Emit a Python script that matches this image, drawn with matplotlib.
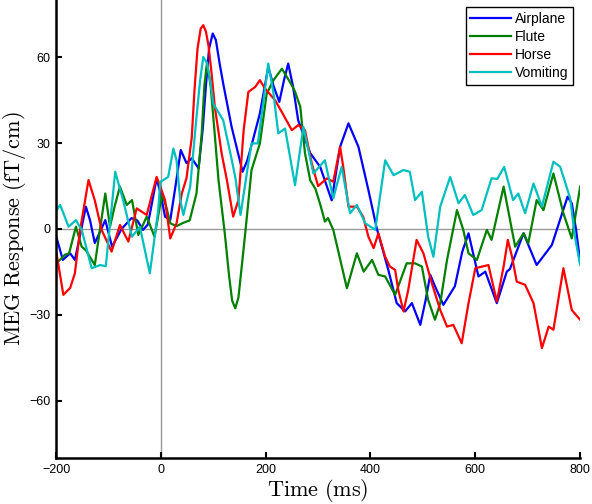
import matplotlib
matplotlib.use("Agg")
from matplotlib import pyplot as plt

# values (time in ms, response in fT/cm)
airplane_t = [-199, -187, -173, -164, -155, -143, -135, -126, -116, -106, -93, -75, -56, -45, -34, -25,
              -18, -8, 0, 8, 18, 28, 38, 49, 59, 72, 80, 86, 92, 99, 105, 112, 119, 135, 156, 165, 174, 189,
              205, 215, 226, 235, 243, 252, 262, 285, 304, 326, 342, 358, 377, 396, 412, 434, 450, 466, 479,
              495, 505, 514, 523, 539, 561, 575, 587, 606, 619, 641, 660, 666, 692, 717, 746, 776, 784, 792, 800]
airplane_v = [-3, -10.8, -8.5, -10.8, -3, 7.8, 3, -4.9, -1, 3.1, -6.2, 0, 3.8, 3, -0.3, 1.5,
              8, 17.7, 12, 4.3, 3.1, 15, 27.6, 23, 24.7, 21.2, 35, 50, 63, 68.3, 66, 58, 50.8, 35.7, 20, 24, 29.9, 40.4,
              56.6, 50, 44.4, 52, 57.8, 50, 38, 26.5, 21.7, 10, 28.7, 36.9, 28.7, 13.6, 0.2, -14.3, -25.9, -28.8, -25.9,
              -33.5, -25, -16, -20, -26.5, -20, -8, -1.5, -16.6, -14.9, -25.9, -14.9, -14, -1.5, -12.6, -5.6, 11.3, 9, 0, -11.4]

flute_t = [-199, -183, -175, -162, -151, -143, -126, -116, -106, -97, -88, -78, -65, -55, -43, -27,
           -12, 2, 10, 18, 30, 42, 55, 68, 78, 83, 88, 95, 102, 110, 122, 130, 136, 142, 148, 155, 161, 173,
           189, 202, 215, 231, 250, 256, 266, 275, 285, 295, 305, 313, 319, 329, 355, 374, 387, 403, 415, 428,
           447, 469, 485, 498, 510, 523, 533, 546, 565, 577, 587, 603, 622, 631, 654, 676, 692, 701, 717, 730,
           749, 768, 784, 800]
flute_v = [-12, -9, -8.5, 0.8, -6.2, -7.4, -12.6, 0, 12.4, 0.8, 8, 14.8, 8.4, 10.1, -2.1, 4.3,
           -2.7, 12, 8, 2, 1, 2.1, 3, 12.4, 33.4, 50, 58, 50, 35, 17.1, -1.5, -16, -25, -27.7, -24, -12, -1.5, 20.6,
           29.9, 47.3, 52, 56, 50.2, 48, 42.7, 26.5, 17, 14, 8, 2.6, 3.8, -0.3, -20.7, -8.5, -14.9, -10.8, -16, -16.6,
           -23, -12, -12, -13.1, -24.8, -31.7, -26, -10.8, 6.6, -0.3, -8.5, -10.8, -0.3, -3.8, 14.8, -6.2, -1.5, -5, 10.1, 6.6,
           19.4, 5.5, -3.3, 14.8]

horse_t = [-199, -186, -173, -164, -154, -138, -126, -113, -94, -78, -70, -62, -46, -27, -8, -1, 8,
           18, 30, 40, 49, 59, 64, 70, 76, 81, 86, 91, 97, 103, 116, 126, 138, 148, 158, 167, 180, 189, 199,
           218, 234, 250, 262, 275, 288, 300, 317, 329, 342, 348, 358, 374, 386, 396, 406, 415, 428, 437, 447,
           453, 463, 472, 488, 501, 517, 533, 546, 558, 574, 587, 600, 625, 641, 654, 662, 670, 679, 695, 711,
           727, 740, 749, 768, 784, 800]
horse_v = [-8.5, -23, -20.6, -15.5, -0.3, 17.1, 10, -0.3, -7.9, 1.4, -1.5, -4.4, 7.2, 4.9, 18.2, 14.8, 10.1,
           -3.3, 2, 12.4, 17.8, 32, 48, 63, 70, 71.2, 69, 64, 54, 42.7, 26.4, 17.1, 4.3, 10.1, 34.5, 47.9, 49.6, 52, 49,
           45, 39.8, 34.5, 36.3, 34.5, 22.9, 15, 17.7, 16.5, 28.7, 21.7, 7.8, 7.8, 4.3, -2.7, -6.7, -1.5, -9.7, -13.1, -14.3,
           -21.3, -28.8, -21.3, -3.8, -8.5, -18.9, -28.3, -34.1, -33.5, -39.9, -25.9, -13.7, -12.6, -25.3, -13.1, -3.8, -9.7, -18.4, -19.5, -25.9,
           -41.6, -34.1, -35.2, -13.7, -28.3, -31.7]

vomiting_t = [-199, -192, -176, -162, -151, -132, -116, -105, -87, -72, -55, -40, -21, -5, -1, 5, 14,
              24, 30, 37, 43, 56, 68, 75, 81, 88, 94, 100, 119, 132, 142, 152, 164, 173, 185, 196, 205, 215, 224,
              237, 256, 272, 291, 313, 329, 345, 361, 374, 390, 409, 428, 444, 463, 475, 485, 498, 510, 520,
              533, 552, 568, 580, 596, 612, 631, 642, 655, 672, 682, 695, 711, 727, 749, 762, 781, 790, 800]
vomiting_v = [6.6, 8.4, 0.8, 3.1, -0.3, -13.7, -12.6, -13, 20, 10.1, -2.7, 0.8, -15.5, 6.6, 16.5, 17.1, 18.2,
              28.1, 24, 10.1, 4.9, 14.8, 39.2, 52, 60.1, 58, 52, 43.8, 38, 27, 18.2, 4.9, 19.4, 29.9, 29.9, 45, 57.8, 47.3, 33.4,
              35.1, 15.3, 35.7, 19.4, 24, 10.7, 21.7, 5.5, 8.4, 2, -0.3, 24, 18.8, 20.6, 20, 10.1, 13, -2.7, -9.7,
              7.8, 18.2, 9, 11.9, 4.9, 6.6, 17.7, 17.5, 21.7, 10.1, 12.4, 5.5, 15.9, 7.8, 23.5, 21.7, 10.7, -2.7, -12.6]

labels = ['Airplane', 'Flute', 'Horse', 'Vomiting']
colors = [(0, 0, 1), (0, 0.5, 0), (1, 0, 0), (0, 0.75, 0.75)]

plt.rcParams['mathtext.fontset'] = 'cm'
plt.rcParams['font.family'] = ['Liberation Sans', 'DejaVu Sans']

fig = plt.figure(figsize=(5.92, 5.04), dpi=100)
ax = fig.add_axes([0.0946, 0.0913, 0.8854, 0.9087])

ax.axhline(0, color=(0.6, 0.6, 0.6), lw=1, zorder=1)
ax.axvline(0, color=(0.6, 0.6, 0.6), lw=1, zorder=1)

series = [(airplane_t, airplane_v), (flute_t, flute_v), (horse_t, horse_v), (vomiting_t, vomiting_v)]
for (t, v), lab, c in zip(series, labels, colors):
    ax.plot(t, v, color=c, lw=1.6, label=lab, zorder=2)

ax.set_xlim(-200, 800)
ax.set_ylim(-80, 80)
ax.set_xticks([-200, 0, 200, 400, 600, 800])
ax.set_yticks([-60, -30, 0, 30, 60])
ax.tick_params(direction='in', length=4, width=1.5, labelsize=9, pad=4)

for s in ['top', 'right']:
    ax.spines[s].set_visible(False)
for s in ['left', 'bottom']:
    ax.spines[s].set_linewidth(1.8)

ax.set_xlabel(r'$\mathrm{Time\ (ms)}$', fontsize=16, labelpad=1)
ax.set_ylabel(r'$\mathrm{MEG\ Response\ (fT/cm)}$', fontsize=16, labelpad=1)

leg = ax.legend(loc='upper right', fontsize=10, fancybox=False, framealpha=1,
                edgecolor='black', handlelength=2.9, borderaxespad=0.5,
                labelspacing=0.3, borderpad=0.35, handletextpad=0.3)
leg.get_frame().set_linewidth(1)

fig.savefig('out.png', dpi=100)
